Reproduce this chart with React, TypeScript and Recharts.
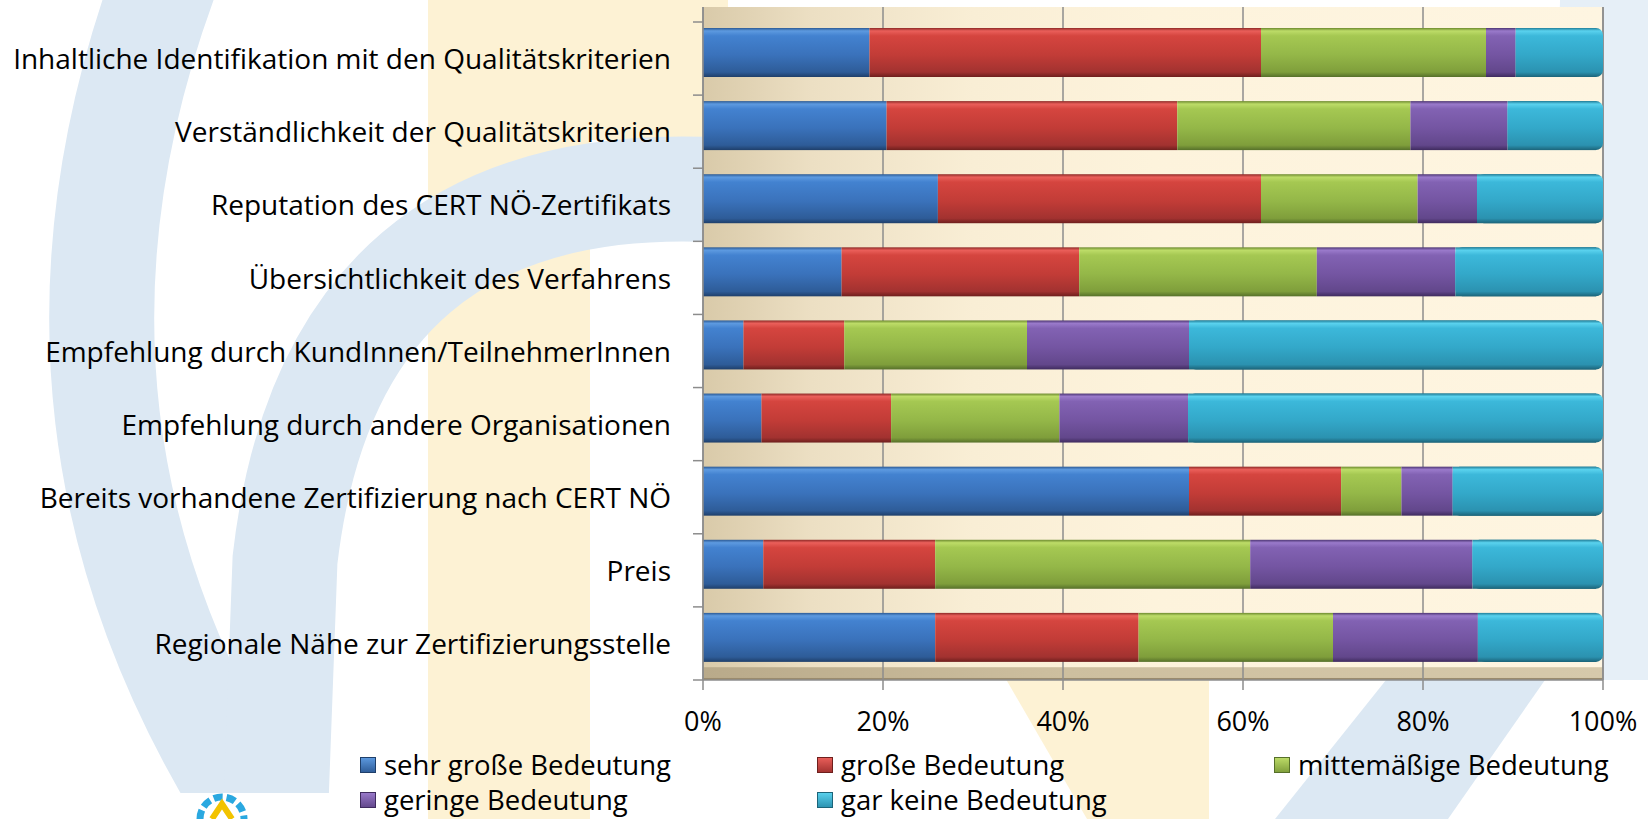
import React from 'react';
import { BarChart, Bar, XAxis, YAxis, CartesianGrid, Legend } from 'recharts';

const categories = [
  'Inhaltliche Identifikation mit den Qualitätskriterien',
  'Verständlichkeit der Qualitätskriterien',
  'Reputation des CERT NÖ-Zertifikats',
  'Übersichtlichkeit des Verfahrens',
  'Empfehlung durch KundInnen/TeilnehmerInnen',
  'Empfehlung durch andere Organisationen',
  'Bereits vorhandene Zertifizierung nach CERT NÖ',
  'Preis',
  'Regionale Nähe zur Zertifizierungsstelle',
];

const sehrGross = [18.5, 20.4, 26.1, 15.4, 4.5, 6.5, 54.0, 6.7, 25.8];
const gross = [43.5, 32.3, 35.9, 26.4, 11.2, 14.4, 16.9, 19.1, 22.6];
const mittel = [25.0, 25.9, 17.4, 26.4, 20.3, 18.7, 6.7, 35.0, 21.6];
const gering = [3.3, 10.8, 6.6, 15.4, 18.0, 14.3, 5.7, 24.7, 16.1];
const garKeine = [9.7, 10.6, 14.0, 16.4, 46.0, 46.1, 16.7, 14.5, 13.9];

const seriesNames = [
  'sehr große Bedeutung',
  'große Bedeutung',
  'mittemäßige Bedeutung',
  'geringe Bedeutung',
  'gar keine Bedeutung',
];
const xTicks = [0, 20, 40, 60, 80, 100];

const data = categories.map((name, i) => ({
  name,
  s1: sehrGross[i],
  s2: gross[i],
  s3: mittel[i],
  s4: gering[i],
  s5: garKeine[i],
}));

const FONT = "'Open Sans', 'Noto Sans', sans-serif";
const FS = 28;
const FS_LEG = 27.5;
const FS_X = 27;
const TICK_SIZE = 10;
const TICK_MARGIN = 22;

const palette: Record<string, string[]> = {
  s1: ['#2c5a94', '#5d9ae0', '#4382d0', '#3a72bb', '#2e5c98', '#1f3f6a'],
  s2: ['#8e2a27', '#ea5f5a', '#d5453f', '#c23c37', '#a23230', '#6e1f1d'],
  s3: ['#6d8a2f', '#bddc68', '#a5c852', '#94b748', '#7f9e3b', '#56702a'],
  s4: ['#4d3673', '#9a7acb', '#8262b3', '#7455a2', '#62478b', '#3f2b5e'],
  s5: ['#217e99', '#5ad2ee', '#3cb8da', '#33a8c9', '#2b92b0', '#1c6479'],
};

const Defs = () => (
  <svg width={0} height={0} style={{ position: 'absolute' }}>
    <defs>
      {Object.keys(palette).map((k) => {
        const c = palette[k];
        return (
          <linearGradient key={k} id={`grad-${k}`} x1="0" y1="0" x2="0" y2="1">
            <stop offset="0" stopColor={c[0]} />
            <stop offset="0.06" stopColor={c[1]} />
            <stop offset="0.16" stopColor={c[2]} />
            <stop offset="0.55" stopColor={c[3]} />
            <stop offset="0.9" stopColor={c[4]} />
            <stop offset="1" stopColor={c[5]} />
          </linearGradient>
        );
      })}
      {Object.keys(palette).map((k) => {
        const c = palette[k];
        return (
          <linearGradient key={'lg' + k} id={`leg-${k}`} x1="0" y1="0" x2="0" y2="1">
            <stop offset="0" stopColor={c[1]} />
            <stop offset="1" stopColor={c[4]} />
          </linearGradient>
        );
      })}
      <linearGradient id="plotBgGrad" x1="0" y1="0" x2="1" y2="0">
        <stop offset="0" stopColor="#d9caa9" />
        <stop offset="0.12" stopColor="#ecdfc3" />
        <stop offset="0.3" stopColor="#f9eed5" />
        <stop offset="0.5" stopColor="#fdf3dc" />
        <stop offset="1" stopColor="#fef5e1" />
      </linearGradient>
      <linearGradient id="floorGrad" x1="0" y1="0" x2="1" y2="0">
        <stop offset="0" stopColor="#b9aa8a" />
        <stop offset="0.4" stopColor="#cdbf9f" />
        <stop offset="1" stopColor="#d6c9ab" />
      </linearGradient>
      <pattern id="plotBg" patternUnits="objectBoundingBox" patternContentUnits="objectBoundingBox" width="1" height="1">
        <rect x="0" y="0" width="1" height="1" fill="url(#plotBgGrad)" />
        <rect x="0" y="0.981" width="1" height="0.019" fill="url(#floorGrad)" />
        <rect x="0" y="0.997" width="1" height="0.003" fill="#9a8b6e" />
      </pattern>
    </defs>
  </svg>
);

const makeShape = (key: string, last: boolean) => (props: any) => {
  const { x, y, width, height } = props;
  if (!width || width <= 0 || !height) return <g />;
  const yy = y - 6;
  if (last) {
    const r = 7;
    return (
      <g>
        <rect x={x} y={yy} width={width} height={height} rx={r} ry={r} fill={`url(#grad-${key})`} />
        <rect x={x} y={yy} width={Math.max(0, width - r)} height={height} fill={`url(#grad-${key})`} />
      </g>
    );
  }
  return <rect x={x} y={yy} width={width} height={height} fill={`url(#grad-${key})`} />;
};

const YTick = (props: any) => {
  const { x, y, payload, index } = props;
  const half = payload && typeof payload.offset === 'number' && payload.offset > 0 ? payload.offset : 36.5;
  const lx1 = x + TICK_MARGIN;
  const lx2 = lx1 + TICK_SIZE;
  return (
    <g>
      <line x1={lx1} x2={lx2} y1={y - half} y2={y - half} stroke="#8c8c8c" strokeWidth={1.5} />
      {index === categories.length - 1 && (
        <line x1={lx1} x2={lx2} y1={y + half} y2={y + half} stroke="#8c8c8c" strokeWidth={1.5} />
      )}
      <text x={x} y={y} dy="0.38em" textAnchor="end" fill="#000" fontSize={FS} fontFamily={FONT}>
        {payload.value}
      </text>
    </g>
  );
};

const legendCols = [360, 817, 1274];
const legendRowTops = [10, 45];

const renderLegend = () => (
  <div style={{ position: 'relative', width: 1648, height: 79 }}>
    {seriesNames.map((n, i) => {
      const key = `s${i + 1}`;
      const col = i % 3;
      const row = Math.floor(i / 3);
      return (
        <div
          key={n}
          style={{
            position: 'absolute',
            left: legendCols[col],
            top: legendRowTops[row],
            height: 30,
            display: 'flex',
            alignItems: 'center',
            whiteSpace: 'nowrap',
          }}
        >
          <svg width={16} height={16} style={{ marginRight: 8 }}>
            <rect x={0.5} y={0.5} width={15} height={15} fill={`url(#leg-${key})`} stroke={palette[key][5]} strokeWidth={1} />
          </svg>
          <span style={{ fontFamily: FONT, fontSize: FS_LEG, color: '#000', lineHeight: '30px' }}>{n}</span>
        </div>
      );
    })}
  </div>
);

const Backdrop = () => (
  <svg width={1648} height={819} style={{ position: 'absolute', left: 0, top: 0 }}>
    <rect x={0} y={0} width={1648} height={819} fill="#ffffff" />
    <rect x={428} y={0} width={162} height={819} fill="#fdf2d4" />
    <rect x={428} y={0} width={300} height={140} fill="#fdf2d4" />
    <polygon points="960,600 1209,600 1209,819 1087,819" fill="#fdf2d4" />
    <path d="M 165 -20 Q 0 430 265 830" stroke="#dce8f3" strokeWidth={105} fill="none" />
    <path d="M 720 190 Q 330 170 285 560 L 275 830" stroke="#dce8f3" strokeWidth={105} fill="none" />
    <polygon points="1386,680 1545,680 1448,819 1275,819" fill="#dce8f3" />
    <polygon points="1560,0 1648,0 1648,680 1545,680" fill="#e6eff7" />
    <rect x={0} y={793} width={345} height={26} fill="#ffffff" />
    <path d="M 200 819 A 22 22 0 0 1 244 819" stroke="#2aa8e0" strokeWidth={7} fill="none" strokeDasharray="9 4" />
    <path d="M 212 819 L 222 804 L 232 819" stroke="#f2c300" strokeWidth={6} fill="none" />
  </svg>
);

export default function App() {
  return (
    <div style={{ position: 'absolute', left: 0, top: 0, width: 1648, height: 819, overflow: 'hidden' }}>
      <Defs />
      <Backdrop />
      <div style={{ position: 'absolute', left: 0, top: 0 }}>
        <BarChart
          width={1648}
          height={819}
          data={data}
          layout="vertical"
          margin={{ top: 7, right: 45, bottom: 0, left: 0 }}
          barSize={49}
        >
          <CartesianGrid horizontal={false} vertical={true} stroke="#8c8c8c" strokeWidth={1.5} fill="url(#plotBg)" fillOpacity={1} />
          <XAxis
            type="number"
            domain={[0, 100]}
            ticks={xTicks}
            tickFormatter={(v: number) => `${v}%`}
            height={60}
            tickSize={TICK_SIZE}
            tickMargin={TICK_MARGIN}
            axisLine={{ stroke: '#8c8c8c', strokeWidth: 1.5 }}
            tickLine={{ stroke: '#8c8c8c', strokeWidth: 1.5 }}
            tick={{ fill: '#000', fontSize: FS_X, fontFamily: FONT }}
            interval={0}
          />
          <YAxis
            type="category"
            dataKey="name"
            width={703}
            padding={{ top: 15, bottom: 0 }}
            tickSize={TICK_SIZE}
            tickMargin={TICK_MARGIN}
            tickLine={false}
            axisLine={{ stroke: '#8c8c8c', strokeWidth: 1.5 }}
            tick={<YTick />}
            interval={0}
          />
          <Legend verticalAlign="bottom" align="left" content={renderLegend} wrapperStyle={{ left: 0, width: 1648, height: 79 }} />
          {['s1', 's2', 's3', 's4', 's5'].map((k, i) => (
            <Bar
              key={k}
              dataKey={k}
              name={seriesNames[i]}
              stackId="a"
              fill={palette[k][3]}
              isAnimationActive={false}
              shape={makeShape(k, i === 4)}
            />
          ))}
        </BarChart>
      </div>
    </div>
  );
}
